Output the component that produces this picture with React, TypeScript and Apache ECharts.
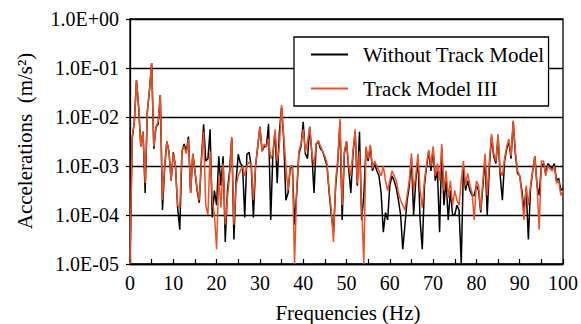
import React, { useEffect, useRef } from "react";
import * as echarts from "echarts";

// Frequency grid (Hz): 0 to 100 in 0.5 Hz steps
const FREQ_STEP = 0.5;
const FREQ_COUNT = 201;
const frequencies: number[] = Array.from({ length: FREQ_COUNT }, (_, i) => i * FREQ_STEP);

// log10 of acceleration (m/s^2), one value per 0.5 Hz
const withoutTrackLog10: number[] = [
  -5.0, -2.45, -2.1, -1.25, -1.8, -2.6, -2.3, -3.55, -1.9, -1.45,
  -0.9, -2.65, -2.2, -2.15, -1.55, -3.9, -3.05, -2.5, -2.7, -3.3,
  -2.72, -3.0, -3.85, -4.3, -2.7, -2.55, -2.7, -2.4, -3.55, -2.75,
  -3.1, -3.5, -3.75, -2.85, -2.15, -2.9, -2.85, -2.25, -4.05, -3.5,
  -3.8, -2.8, -3.4, -2.8, -4.55, -3.5, -3.1, -2.42, -4.5, -3.3,
  -2.76, -2.95, -3.0, -4.05, -2.76, -2.72, -3.0, -4.05, -3.0, -2.6,
  -2.2, -2.7, -2.6, -2.6, -2.14, -4.1, -2.75, -2.3, -3.35, -2.3,
  -1.8, -2.45, -3.7, -3.55, -3.05, -3.0, -4.2, -3.55, -2.75, -2.6,
  -2.1, -2.75, -2.85, -2.2, -2.75, -3.55, -2.55, -2.5, -2.65, -2.7,
  -2.85, -3.0, -3.55, -4.0, -4.35, -3.4, -2.9, -2.1, -4.1, -2.75,
  -2.5, -3.05, -3.55, -2.75, -2.3, -3.4, -2.3, -4.1, -3.6, -2.65,
  -2.9, -2.6, -3.1, -2.95, -3.1, -3.2, -3.55, -4.35, -3.95, -4.1,
  -3.4, -3.2, -3.3, -3.45, -3.7, -4.0, -4.7, -4.2, -3.7, -3.4,
  -2.85, -4.0, -3.3, -2.85, -4.1, -4.7, -3.4, -3.0, -2.7, -3.1,
  -2.65, -3.3, -3.1, -4.35, -2.65, -3.8, -3.3, -4.1, -3.5, -4.0,
  -4.0, -3.8, -3.9, -5.0, -3.0, -3.5, -3.3, -3.5, -3.6, -3.6,
  -3.4, -3.5, -3.95, -3.4, -2.85, -4.0, -3.0, -2.4, -2.8, -2.95,
  -2.4, -3.2, -3.7, -2.9, -2.65, -2.5, -2.85, -2.1, -2.75, -3.15,
  -3.2, -3.5, -3.9, -3.45, -4.5, -3.45, -3.1, -2.8, -3.4, -3.6,
  -3.0, -2.95, -3.15, -2.95, -3.0, -3.05, -2.95, -3.3, -3.25, -3.5,
  -3.45,
];

const trackModelIIILog10: number[] = [
  -5.0, -2.4, -2.1, -1.25, -1.8, -2.6, -2.3, -3.35, -1.9, -1.45,
  -0.9, -2.6, -2.2, -2.1, -1.55, -3.7, -3.0, -2.5, -2.7, -3.3,
  -2.75, -3.0, -3.8, -3.85, -2.7, -2.6, -2.75, -2.45, -3.55, -2.75,
  -3.1, -3.45, -3.7, -2.9, -2.3, -3.8, -4.0, -2.7, -3.7, -4.0,
  -4.7, -3.2, -3.85, -2.95, -4.2, -3.65, -3.2, -2.42, -4.2, -3.4,
  -3.2, -3.1, -3.0, -3.2, -3.0, -2.92, -2.95, -3.7, -3.0, -2.6,
  -2.2, -2.7, -2.55, -2.6, -2.45, -2.85, -2.75, -2.25, -2.9, -2.6,
  -1.75, -2.4, -3.0, -3.5, -3.0, -3.0, -5.0, -3.5, -2.7, -2.55,
  -2.25, -2.72, -2.5, -2.2, -2.72, -3.0, -2.55, -2.48, -2.6, -2.7,
  -2.8, -2.95, -3.5, -3.9, -4.55, -3.3, -2.85, -2.04, -3.8, -2.7,
  -2.5, -3.0, -3.2, -2.7, -2.25, -3.35, -2.7, -3.8, -5.0, -2.6,
  -2.85, -2.57, -3.05, -2.9, -3.0, -3.1, -3.2, -3.0, -3.3, -3.5,
  -3.3, -3.1, -3.2, -3.3, -3.55, -3.7, -3.8, -3.9, -3.6, -3.3,
  -2.74, -3.5, -3.2, -2.75, -3.5, -3.85, -3.3, -2.95, -2.67, -3.0,
  -2.6, -3.2, -2.95, -3.3, -2.55, -3.5, -3.1, -3.65, -3.3, -3.8,
  -3.5, -3.7, -3.8, -3.3, -2.9, -3.4, -3.15, -3.4, -3.55, -4.1,
  -3.3, -3.4, -3.9, -3.3, -2.75, -3.6, -2.9, -2.35, -2.75, -2.9,
  -2.35, -3.1, -3.2, -2.85, -2.6, -2.45, -2.8, -2.07, -2.7, -3.1,
  -3.2, -3.6, -4.1, -3.4, -3.8, -3.4, -3.1, -2.8, -3.4, -4.3,
  -2.9, -2.9, -3.2, -3.0, -3.05, -3.1, -3.0, -3.35, -3.3, -3.6,
  -3.5,
];

const seriesNames = ["Without Track Model", "Track Model III"];
const seriesColors = ["#000000", "#F04E23"];
const xTickValues = [0, 10, 20, 30, 40, 50, 60, 70, 80, 90, 100];

const FONT = "Liberation Serif";

function toPairs(logs: number[]): [number, number][] {
  return frequencies.map((f, i) => [f, Math.pow(10, logs[i])]);
}

function fmtExp(v: number): string {
  const e = Math.round(Math.log10(v));
  const sign = e >= 0 ? "+" : "-";
  return "1.0E" + sign + String(Math.abs(e)).padStart(2, "0");
}

export default function App() {
  const ref = useRef<HTMLDivElement>(null);
  useEffect(() => {
    if (!ref.current) return;
    const chart = echarts.init(ref.current, undefined, { renderer: "svg" });
    chart.setOption({
      animation: false,
      backgroundColor: "#ffffff",
      textStyle: { fontFamily: FONT },
      grid: {
        left: 130,
        top: 19,
        right: 14,
        bottom: 60,
        show: true,
        borderColor: "#000",
        borderWidth: 1.3,
        backgroundColor: "transparent",
      },
      legend: {
        show: true,
        orient: "vertical",
        left: 294,
        top: 37,
        backgroundColor: "#ffffff",
        borderColor: "#000",
        borderWidth: 1.3,
        borderRadius: 0,
        padding: [7, 4, 7, 17],
        itemGap: 13,
        itemWidth: 37,
        itemHeight: 2,
        icon: "rect",
        data: seriesNames,
        textStyle: {
          fontFamily: FONT,
          fontSize: 21,
          color: "#000",
          lineHeight: 20,
          padding: [0, 0, 0, 10],
        },
      },
      xAxis: {
        type: "value",
        min: 0,
        max: 100,
        interval: 10,
        axisLine: { show: true, onZero: false, lineStyle: { color: "#000", width: 1.3 } },
        axisTick: { show: true, inside: true, length: 5, lineStyle: { color: "#000", width: 1.2 } },
        minorTick: { show: true, splitNumber: 2, length: 5, lineStyle: { color: "#000", width: 1.2 } },
        splitLine: { show: false },
        axisLabel: {
          show: true,
          margin: 9,
          fontFamily: FONT,
          fontSize: 20,
          color: "#000",
          formatter: (v: number) => (xTickValues.includes(v) ? String(v) : ""),
        },
      },
      yAxis: {
        type: "log",
        logBase: 10,
        min: 1e-5,
        max: 1,
        axisLine: { show: true, lineStyle: { color: "#000", width: 1.3 } },
        axisTick: { show: true, inside: false, length: 4, lineStyle: { color: "#000", width: 1.2 } },
        splitLine: { show: true, lineStyle: { color: "#000", width: 1.3 } },
        minorTick: { show: false },
        axisLabel: {
          show: true,
          margin: 11,
          fontFamily: FONT,
          fontSize: 20,
          color: "#000",
          formatter: (v: number) => fmtExp(v),
        },
      },
      graphic: [
        {
          type: "text",
          x: 348,
          y: 313,
          style: {
            text: "Frequencies (Hz)",
            fontFamily: FONT,
            fontSize: 21,
            fill: "#000",
            textAlign: "center",
            textVerticalAlign: "middle",
          },
        },
        {
          type: "text",
          x: 25,
          y: 141,
          rotation: Math.PI / 2,
          style: {
            text: "Accelerations  (m/s²)",
            fontFamily: FONT,
            fontSize: 21,
            fill: "#000",
            textAlign: "center",
            textVerticalAlign: "middle",
          },
        },
      ],
      series: [
        {
          name: seriesNames[0],
          type: "line",
          data: toPairs(withoutTrackLog10),
          showSymbol: false,
          symbol: "none",
          lineStyle: { color: seriesColors[0], width: 1.5 },
          itemStyle: { color: seriesColors[0] },
          z: 2,
        },
        {
          name: seriesNames[1],
          type: "line",
          data: toPairs(trackModelIIILog10),
          showSymbol: false,
          symbol: "none",
          lineStyle: { color: seriesColors[1], width: 1.5 },
          itemStyle: { color: seriesColors[1] },
          z: 3,
        },
      ],
    });
    return () => chart.dispose();
  }, []);
  return (
    <div
      ref={ref}
      style={{ position: "fixed", left: 0, top: 0, width: 581, height: 324, background: "#fff" }}
    />
  );
}
